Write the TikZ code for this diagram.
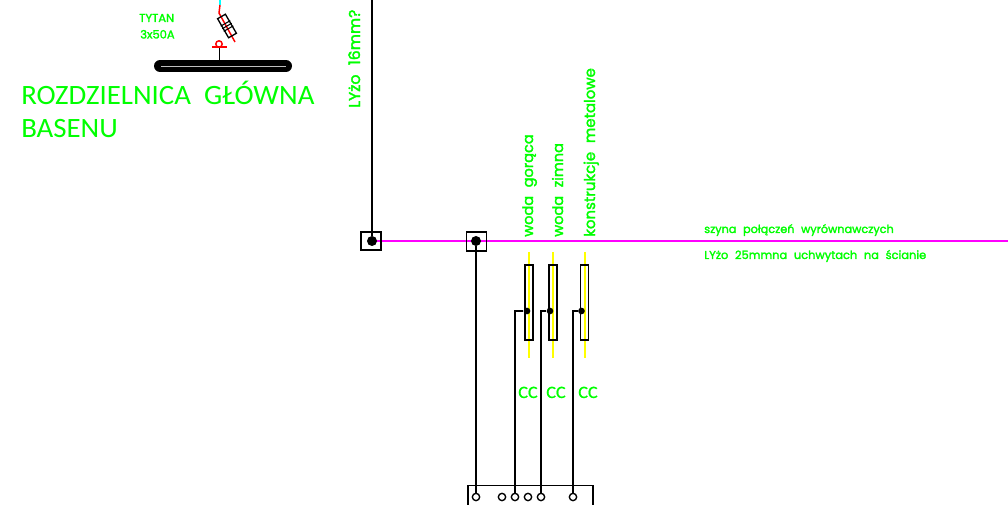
\documentclass[tikz,border=0pt]{standalone}
\usepackage{fontspec}
\setmainfont[FakeBold=2,WordSpace=2.2]{Poppins}
\newfontfamily\titlefont[FakeStretch=1.03,WordSpace=2.0]{Carlito}
\newfontfamily\ccfont[FakeStretch=1.05,FakeBold=1]{Carlito}
\usetikzlibrary{positioning}

\definecolor{cadgreen}{RGB}{0,255,0}
\definecolor{cadbus}{RGB}{255,0,255}
\definecolor{cadyellow}{RGB}{255,255,0}
\definecolor{cadcyan}{RGB}{0,255,255}
\definecolor{cadred}{RGB}{255,0,0}

\tikzset{
    wire/.style={draw=black, line width=1.2pt},
    bus/.style={draw=cadbus, line width=1.5pt},
    termbox/.style={draw=black, line width=1.4pt, minimum width=15pt, minimum height=14pt, inner sep=0pt},
    bigdot/.style={circle, fill=black, minimum size=7.5pt, inner sep=0pt},
    smalldot/.style={circle, fill=black, minimum size=5pt, inner sep=0pt},
    pin/.style={circle, draw=black, line width=1pt, fill=white, minimum size=5.5pt, inner sep=0pt},
    clamp/.style={draw=black, line width=1.3pt, minimum width=6pt, minimum height=56pt, inner sep=0pt},
    label/.style={text=cadgreen, inner sep=0pt, anchor=base west, font=\fontsize{8.45pt}{10pt}\selectfont},
    uplabel/.style={label, rotate=90, font=\fontsize{10.9pt}{12pt}\selectfont},
    smalllabel/.style={label, font=\fontsize{8.6pt}{10pt}\selectfont},
    titlelabel/.style={label, font=\titlefont\fontsize{21pt}{24pt}\selectfont},
    cclabel/.style={label, font=\ccfont\fontsize{13pt}{14pt}\selectfont},
}

\begin{document}
\begin{tikzpicture}[x=.75pt,y=-.75pt]

\useasboundingbox (0,0) rectangle (1008,505);

% coordinates
\coordinate (feedtop) at (372,0);
\coordinate (busend) at (1008,241);
\coordinate (yellowAt) at (529,252);
\coordinate (yellowAb) at (529,358);
\coordinate (yellowBt) at (553,252);
\coordinate (yellowBb) at (553,358);
\coordinate (yellowCt) at (585,252);
\coordinate (yellowCb) at (585,358);

% busbar
\node[smalldot, minimum size=1pt] (busstart) at (372,241) {};
\draw[bus] (busstart) -- (busend);

% yellow pipes
\begin{scope}[cadyellow, line width=1.3pt]
\draw (yellowAt) -- (yellowAb);
\draw (yellowBt) -- (yellowBb);
\draw (yellowCt) -- (yellowCb);
\end{scope}

% terminals
\node[termbox] (termA) at (371,241) {};
\node[termbox] (termB) at (476.5,241.5) {};
\node[bigdot] (dotA) at (372,241) {};
\node[bigdot] (dotB) at (476,241) {};

% clamps
\node[clamp] (clampA) at (529,302.5) {};
\node[clamp] (clampB) at (553,302.5) {};
\node[clamp] (clampC) at (584.5,302.5) {};
\node[smalldot] (dotC) at (527,311) {};
\node[smalldot] (dotD) at (550,311) {};
\node[smalldot] (dotE) at (581.5,311) {};

% board
\draw[wire, line width=1pt] (468,505) -- (468,485.5) -- (593,485.5) -- (593,505);
\node[pin] (pinA) at (476,497) {};
\node[pin] (pinB) at (502,497) {};
\node[pin] (pinC) at (515,497) {};
\node[pin] (pinD) at (528,497) {};
\node[pin] (pinE) at (541,497) {};
\node[pin] (pinF) at (573,497) {};

% wires
\draw[wire, line width=1.5pt] (feedtop) -- (dotA);
\draw[wire] (dotB) -- (pinA);
\draw[wire] (dotC) -| (pinC);
\draw[wire] (dotD) -| (pinE);
\draw[wire] (dotE) -| (pinF);

% main board bar
\draw[black, line width=9pt, line cap=round] (160,66) -- (286,66);
\draw[lightgray, line width=.5pt] (161,66) -- (286,66);
\draw[black, line width=1.1pt] (219.5,47) -- (219.5,60);

% breaker
\draw[cadred, line width=1.1pt] (212,47) -- (227,47);
\draw[cadred, line width=1.1pt] (219,44) circle (3.2);
\draw[cadcyan, line width=1.1pt] (220,0) -- (220,5);
\draw[cadred, line width=1.1pt] (220,5) -- (219,13) -- (235,42);
\begin{scope}[shift={(227,26)}, rotate=-60]
\draw[black, line width=1pt] (-11,-4.5) rectangle (11,4.5);
\draw[black, line width=.8pt] (-3,-5.5) -- (-3,5.5);
\draw[black, line width=.8pt] (0,-5.5) -- (0,5.5);
\draw[black, line width=.8pt] (3,-5.5) -- (3,5.5);
\end{scope}

% texts
\node[smalllabel] (tytan) at (139,22) {TYTAN};
\node[smalllabel] (amps) at (140,38.5) {3x50A};
\node[titlelabel] (titleA) at (21,105) {ROZDZIELNICA GŁÓWNA};
\node[titlelabel] (titleB) at (21,138) {BASENU};
\node[uplabel, font=\fontsize{11.8pt}{14pt}\selectfont] (feedlabel) at (360,108) {LYżo 16mm?};
\node[uplabel] (hotlabel) at (533,237) {woda gorąca};
\node[uplabel] (coldlabel) at (563,237) {woda zimna};
\node[uplabel, font=\fontsize{11.2pt}{12pt}\selectfont] (metallabel) at (595,237) {konstrukcje metalowe};
\node[label] (buslabelA) at (704,233) {szyna połączeń wyrównawczych};
\node[label, font=\fontsize{8.55pt}{10pt}\selectfont] (buslabelB) at (704,259) {LYżo 25mmna uchwytach na ścianie};
\node[cclabel] (ccA) at (518,398) {CC};
\node[cclabel] (ccB) at (546,398) {CC};
\node[cclabel] (ccC) at (578,398) {CC};

\end{tikzpicture}
\end{document}
